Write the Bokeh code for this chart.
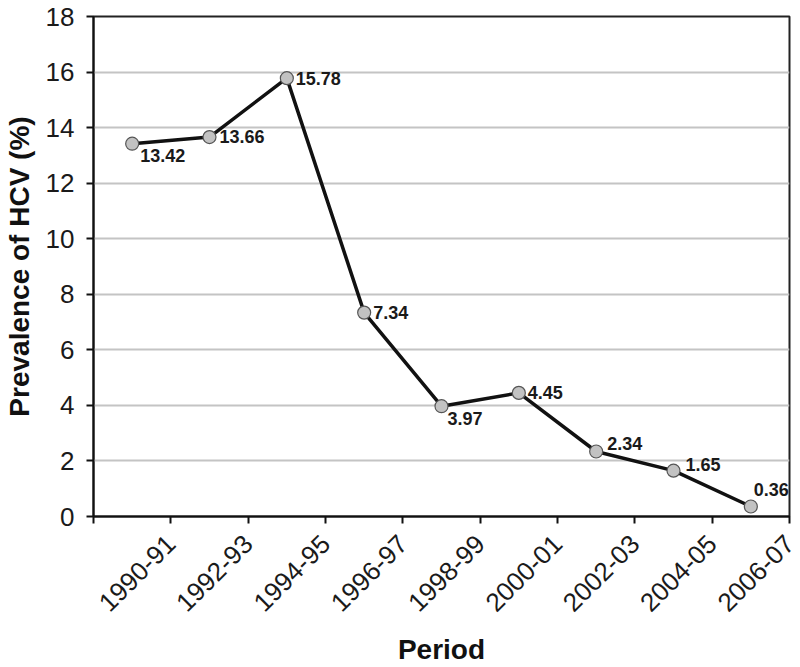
import math
from bokeh.plotting import figure
from bokeh.models import FixedTicker, Range1d, ColumnDataSource
from bokeh.embed import file_html
from bokeh.resources import INLINE
from bokeh.core.properties import value

periods = ["1990-91", "1992-93", "1994-95", "1996-97", "1998-99",
           "2000-01", "2002-03", "2004-05", "2006-07"]
prevalence = [13.42, 13.66, 15.78, 7.34, 3.97, 4.45, 2.34, 1.65, 0.36]
y_ticks = [0, 2, 4, 6, 8, 10, 12, 14, 16, 18]

# label offsets in screen pixels (right, down)
label_dx = [8, 10, 9, 9, 6, 9, 11, 12, 3]
label_dy = [12, -1, 0, 0, 12, 0, -8, -6, -17]

n = len(periods)
xs = [i + 0.5 for i in range(n)]
src = ColumnDataSource(dict(x=xs, y=prevalence,
                            lbl=[f"{v:.2f}" for v in prevalence],
                            dx=label_dx, dy=label_dy))

FONT = "Liberation Sans"

p = figure(frame_width=696, frame_height=500, output_backend="svg",
           toolbar_location=None,
           x_range=Range1d(0, n), y_range=Range1d(0, 18),
           min_border_left=93, min_border_right=11, min_border_top=16,
           min_border_bottom=151)
p.outline_line_color = "#222222"
p.outline_line_width = 2
p.background_fill_color = "white"
p.border_fill_color = "white"

# grid
p.xgrid.visible = False
p.ygrid.ticker = FixedTicker(ticks=y_ticks)
p.ygrid.grid_line_color = "#c4c4c4"
p.ygrid.grid_line_width = 2

# x axis
p.xaxis.ticker = FixedTicker(ticks=list(range(n + 1)))
overrides = {0: ""}
for i, lab in enumerate(periods):
    overrides[i + 1] = lab
p.xaxis.major_label_overrides = overrides
p.xaxis.major_label_orientation = math.pi / 4
p.xaxis.major_label_text_font = FONT
p.xaxis.major_label_text_font_size = "26px"
p.xaxis.major_label_text_color = "#1a1a1a"
p.xaxis.major_label_standoff = 16
p.xaxis.major_tick_in = 0
p.xaxis.major_tick_out = 7
p.xaxis.minor_tick_line_color = None
p.xaxis.axis_line_width = 2
p.xaxis.major_tick_line_width = 2
p.xaxis.axis_line_color = "#111111"
p.xaxis.major_tick_line_color = "#111111"
p.xaxis.axis_label = "Period"
p.xaxis.axis_label_text_font = FONT
p.xaxis.axis_label_text_font_style = "bold"
p.xaxis.axis_label_text_font_size = "28px"
p.xaxis.axis_label_text_color = "#111111"
p.xaxis.axis_label_standoff = 11

# y axis
p.yaxis.ticker = FixedTicker(ticks=y_ticks)
p.yaxis.major_label_text_font = FONT
p.yaxis.major_label_text_font_size = "26px"
p.yaxis.major_label_text_color = "#1a1a1a"
p.yaxis.major_label_standoff = 12
p.yaxis.major_tick_in = 0
p.yaxis.major_tick_out = 7
p.yaxis.minor_tick_line_color = None
p.yaxis.axis_line_width = 2
p.yaxis.major_tick_line_width = 2
p.yaxis.axis_line_color = "#111111"
p.yaxis.major_tick_line_color = "#111111"
p.yaxis.axis_label = "Prevalence of HCV (%)"
p.yaxis.axis_label_text_font = FONT
p.yaxis.axis_label_text_font_style = "bold"
p.yaxis.axis_label_text_font_size = "28px"
p.yaxis.axis_label_text_color = "#111111"
p.yaxis.axis_label_standoff = 8

# data
p.line("x", "y", source=src, line_color="#111111", line_width=3.5)
p.scatter("x", "y", source=src, size=13, fill_color="#c2c2c2",
          line_color="#555555", line_width=1.2)
p.text("x", "y", text="lbl", source=src, x_offset="dx", y_offset="dy",
       text_font=value(FONT), text_font_style="bold",
       text_font_size="18px", text_color="#1a1a1a",
       text_align="left", text_baseline="middle")

open("out.html", "w").write(file_html(p, INLINE))
